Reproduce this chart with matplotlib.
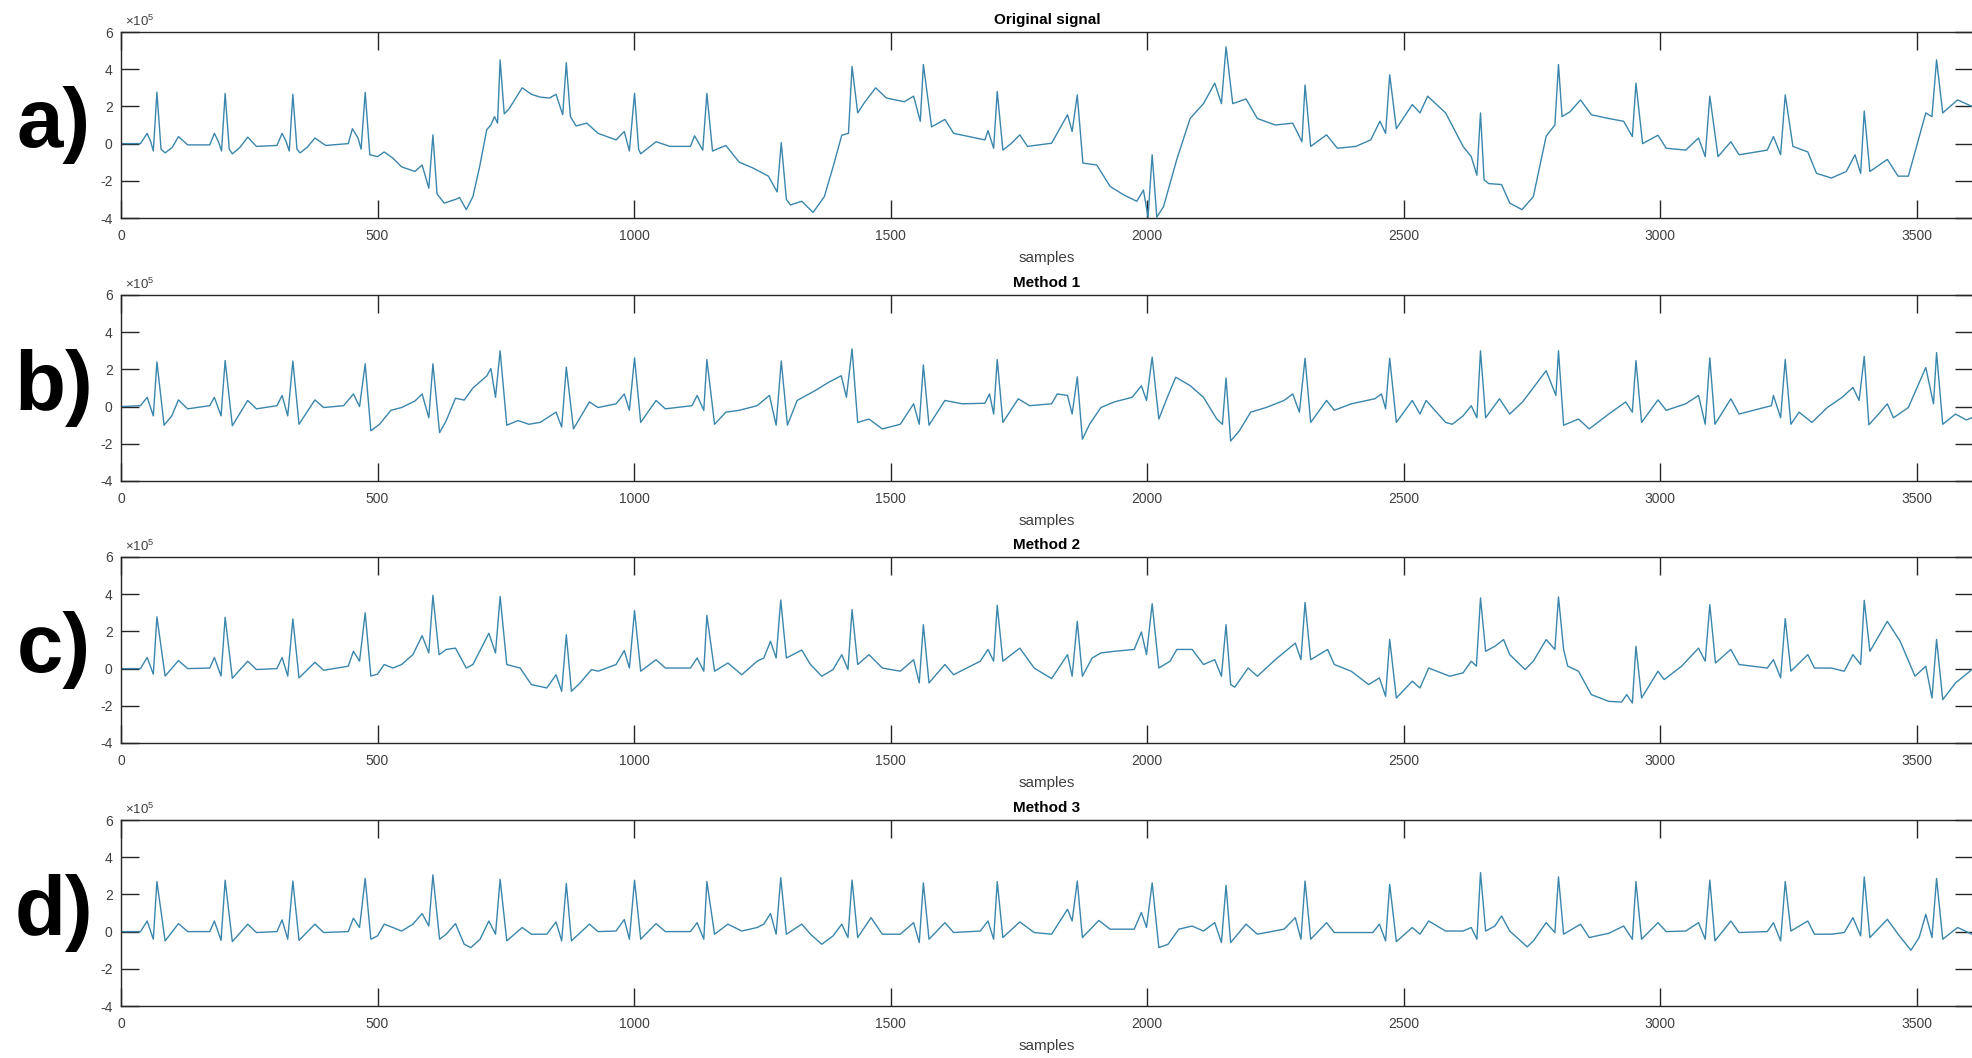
import numpy as np
import matplotlib
matplotlib.use("Agg")
import matplotlib.pyplot as plt

# ECG traces: sample index and value (x 1e5)
a_x = [0, 38, 51, 58, 63, 70, 78, 86, 100, 112, 130, 173, 182, 190, 196, 203, 211, 217, 232, 247,
       264, 304, 314, 322, 328, 335, 343, 349, 363, 378, 399, 443, 451, 462, 468, 476, 485, 500, 513, 530,
       547, 573, 587, 600, 608, 616, 630, 652, 660, 673, 686, 699, 713, 721, 728, 734, 739, 747, 756, 782,
       800, 817, 835, 848, 861, 868, 876, 887, 908, 930, 965, 981, 991, 1001, 1009, 1013, 1043, 1070, 1110, 1118,
       1134, 1142, 1153, 1179, 1205, 1231, 1262, 1279, 1287, 1297, 1305, 1327, 1349, 1371, 1388, 1405, 1418, 1425, 1436, 1449,
       1471, 1492, 1527, 1545, 1558, 1564, 1580, 1606, 1623, 1658, 1684, 1690, 1701, 1708, 1719, 1735, 1752, 1767, 1814, 1845,
       1854, 1864, 1875, 1902, 1928, 1954, 1980, 1993, 2002, 2010, 2019, 2032, 2058, 2084, 2110, 2132, 2145, 2154, 2167, 2193,
       2215, 2250, 2284, 2302, 2308, 2319, 2350, 2371, 2407, 2436, 2454, 2465, 2473, 2486, 2517, 2532, 2547, 2582, 2616, 2632,
       2643, 2650, 2657, 2666, 2691, 2707, 2731, 2753, 2778, 2795, 2802, 2809, 2824, 2845, 2866, 2900, 2929, 2946, 2953, 2966,
       2996, 3012, 3050, 3075, 3088, 3097, 3113, 3138, 3154, 3209, 3221, 3235, 3244, 3259, 3288, 3305, 3334, 3363, 3380, 3391,
       3398, 3409, 3443, 3464, 3484, 3518, 3530, 3539, 3551, 3580, 3608]
a_y = [0.0, 0.0, 0.55, 0.1, -0.4, 2.76, -0.3, -0.5, -0.2, 0.38, -0.07, -0.07, 0.55, 0.1, -0.4, 2.7, -0.3, -0.55, -0.2, 0.35,
       -0.15, -0.1, 0.55, 0.1, -0.4, 2.65, -0.3, -0.5, -0.2, 0.3, -0.1, 0.0, 0.8, 0.3, -0.3, 2.76, -0.6, -0.7, -0.45, -0.78,
       -1.25, -1.5, -1.15, -2.4, 0.47, -2.7, -3.2, -3.0, -2.9, -3.55, -2.85, -1.25, 0.75, 1.0, 1.45, 1.1, 4.5, 1.6, 1.85, 3.0,
       2.65, 2.5, 2.45, 2.65, 1.55, 4.35, 1.45, 0.95, 1.1, 0.55, 0.2, 0.65, -0.4, 2.7, -0.3, -0.55, 0.1, -0.15, -0.15, 0.42,
       -0.35, 2.7, -0.4, -0.1, -1.0, -1.3, -1.75, -2.6, 0.05, -3.0, -3.3, -3.1, -3.7, -2.85, -1.25, 0.45, 0.55, 4.15, 1.65, 2.2,
       3.0, 2.45, 2.25, 2.55, 1.2, 4.25, 0.9, 1.3, 0.55, 0.35, 0.2, 0.7, -0.25, 2.8, -0.35, 0.0, 0.47, -0.15, 0.02, 1.55,
       0.65, 2.62, -1.05, -1.15, -2.3, -2.75, -3.1, -2.5, -3.95, -0.6, -3.95, -3.4, -0.85, 1.35, 2.15, 3.25, 2.15, 5.2, 2.15, 2.4,
       1.35, 1.0, 1.1, 0.1, 3.15, -0.15, 0.47, -0.25, -0.15, 0.2, 1.2, 0.55, 3.7, 0.8, 2.1, 1.65, 2.55, 1.65, -0.15, -0.7,
       -1.7, 1.65, -1.95, -2.15, -2.2, -3.2, -3.55, -2.85, 0.4, 1.0, 4.25, 1.45, 1.7, 2.35, 1.55, 1.35, 1.2, 0.38, 3.25, 0.0,
       0.45, -0.25, -0.35, 0.3, -0.7, 2.55, -0.7, 0.1, -0.6, -0.35, 0.38, -0.6, 2.62, -0.15, -0.45, -1.6, -1.85, -1.5, -0.6, -1.6,
       1.75, -1.5, -0.85, -1.75, -1.75, 1.65, 1.45, 4.5, 1.65, 2.35, 2.0]

b_x = [0, 38, 51, 63, 70, 84, 99, 112, 130, 173, 182, 195, 203, 217, 247, 264, 304, 314, 325, 335,
       347, 378, 395, 434, 453, 465, 476, 487, 504, 526, 547, 573, 587, 600, 608, 621, 634, 652, 669, 686,
       713, 721, 730, 739, 752, 774, 795, 817, 848, 859, 868, 882, 913, 930, 965, 981, 991, 1001, 1013, 1043,
       1061, 1113, 1123, 1136, 1142, 1157, 1179, 1205, 1240, 1264, 1277, 1287, 1299, 1318, 1353, 1379, 1404, 1414, 1425, 1436,
       1458, 1484, 1519, 1545, 1556, 1564, 1575, 1606, 1640, 1684, 1693, 1701, 1708, 1719, 1749, 1771, 1814, 1825, 1845, 1854,
       1864, 1874, 1888, 1910, 1936, 1971, 1989, 1999, 2010, 2023, 2041, 2056, 2084, 2110, 2136, 2147, 2154, 2163, 2180, 2202,
       2232, 2267, 2284, 2297, 2308, 2319, 2350, 2365, 2398, 2444, 2457, 2465, 2473, 2486, 2517, 2532, 2544, 2582, 2595, 2616,
       2632, 2643, 2650, 2660, 2687, 2707, 2732, 2758, 2778, 2797, 2802, 2812, 2841, 2862, 2900, 2933, 2946, 2953, 2964, 2996,
       3012, 3050, 3075, 3088, 3097, 3107, 3138, 3154, 3217, 3221, 3235, 3244, 3255, 3271, 3296, 3326, 3355, 3376, 3388, 3398,
       3407, 3426, 3443, 3455, 3484, 3518, 3533, 3539, 3551, 3576, 3597, 3608]
b_y = [0.0, 0.05, 0.5, -0.5, 2.4, -1.0, -0.5, 0.36, -0.12, 0.05, 0.5, -0.5, 2.48, -1.03, 0.33, -0.12, 0.05, 0.6, -0.5, 2.45,
       -0.95, 0.36, -0.05, 0.05, 0.68, 0.0, 2.3, -1.3, -0.95, -0.2, -0.05, 0.3, 0.68, -0.6, 2.3, -1.4, -0.75, 0.45, 0.35, 1.0,
       1.65, 2.05, 0.5, 3.0, -1.0, -0.75, -0.95, -0.85, -0.3, -1.1, 2.12, -1.2, 0.25, -0.05, 0.15, 0.68, -0.2, 2.62, -0.85, 0.33,
       -0.12, 0.05, 0.6, -0.2, 2.53, -0.95, -0.3, -0.2, 0.05, 0.6, -1.0, 2.45, -1.0, 0.33, 0.86, 1.3, 1.66, 0.5, 3.1, -0.85,
       -0.67, -1.2, -0.95, 0.15, -0.95, 2.24, -1.0, 0.33, 0.15, 0.18, 0.68, -0.4, 2.53, -0.85, 0.42, 0.05, 0.15, 0.68, 0.6, -0.4,
       1.6, -1.75, -0.95, -0.05, 0.25, 0.5, 1.12, 0.33, 2.66, -0.67, 0.6, 1.58, 1.13, 0.5, -0.67, -0.95, 1.54, -1.85, -1.3, -0.3,
       -0.05, 0.33, 0.68, -0.3, 2.6, -0.85, 0.33, -0.2, 0.15, 0.42, 0.68, -0.12, 2.6, -0.85, 0.33, -0.4, 0.33, -0.85, -0.95, -0.5,
       0.05, -0.6, 3.0, -0.6, 0.42, -0.4, 0.25, 1.2, 1.93, 0.6, 3.0, -1.0, -0.67, -1.2, -0.4, 0.25, -0.3, 2.47, -0.85, 0.36,
       -0.2, 0.15, 0.6, -0.95, 2.62, -0.95, 0.42, -0.4, 0.05, 0.6, -0.6, 2.53, -0.95, -0.3, -0.85, -0.05, 0.5, 1.03, 0.33, 2.7,
       -0.98, -0.4, 0.15, -0.6, -0.05, 2.1, 0.15, 2.9, -0.95, -0.4, -0.72, -0.6]

c_x = [0, 38, 51, 63, 70, 86, 112, 130, 173, 182, 195, 203, 217, 247, 264, 304, 314, 325, 335, 347,
       378, 395, 443, 453, 465, 476, 487, 500, 513, 530, 547, 569, 587, 600, 608, 620, 634, 652, 673, 686,
       717, 730, 739, 752, 778, 800, 830, 848, 859, 868, 878, 895, 917, 930, 965, 981, 991, 1001, 1013, 1043,
       1061, 1110, 1123, 1136, 1142, 1157, 1183, 1210, 1240, 1253, 1266, 1277, 1286, 1297, 1327, 1344, 1366, 1388, 1405, 1417,
       1425, 1436, 1458, 1484, 1519, 1545, 1556, 1564, 1575, 1606, 1623, 1675, 1690, 1701, 1708, 1719, 1752, 1780, 1814, 1845,
       1854, 1864, 1874, 1893, 1910, 1936, 1975, 1989, 1999, 2010, 2023, 2045, 2058, 2088, 2110, 2132, 2145, 2154, 2163, 2171,
       2197, 2215, 2250, 2289, 2300, 2308, 2319, 2352, 2365, 2398, 2432, 2453, 2465, 2473, 2486, 2517, 2532, 2549, 2590, 2616,
       2632, 2642, 2650, 2660, 2678, 2695, 2707, 2737, 2753, 2778, 2795, 2802, 2812, 2820, 2841, 2866, 2900, 2925, 2935, 2946,
       2953, 2964, 2996, 3008, 3042, 3075, 3088, 3097, 3108, 3138, 3154, 3209, 3221, 3235, 3244, 3255, 3288, 3301, 3334, 3359,
       3376, 3391, 3398, 3409, 3443, 3468, 3497, 3518, 3530, 3539, 3551, 3576, 3608]
c_y = [0.0, 0.0, 0.6, -0.3, 2.78, -0.4, 0.43, 0.0, 0.03, 0.6, -0.4, 2.76, -0.52, 0.4, -0.05, 0.0, 0.6, -0.4, 2.67, -0.5,
       0.34, -0.09, 0.13, 0.93, 0.4, 3.0, -0.4, -0.3, 0.22, 0.03, 0.22, 0.75, 1.77, 0.84, 3.94, 0.75, 1.03, 1.1, 0.03, 0.22,
       1.9, 0.84, 3.88, 0.22, 0.03, -0.86, -1.04, -0.33, -1.22, 1.82, -1.22, -0.77, -0.05, -0.14, 0.22, 0.97, 0.03, 3.12, -0.14, 0.48,
       0.03, 0.03, 0.57, -0.14, 2.86, -0.14, 0.3, -0.33, 0.4, 0.57, 1.47, 0.57, 3.69, 0.57, 1.0, 0.22, -0.41, -0.05, 0.75, -0.05,
       3.17, 0.22, 0.75, 0.03, -0.14, 0.48, -0.77, 2.36, -0.77, 0.22, -0.33, 0.4, 1.03, 0.4, 3.4, 0.4, 1.1, 0.03, -0.54, 0.75,
       -0.41, 2.54, -0.41, 0.57, 0.84, 0.93, 1.03, 1.97, 0.75, 3.49, 0.03, 0.4, 1.03, 1.03, 0.22, 0.48, -0.41, 2.36, -0.86, -1.0,
       0.03, -0.41, 0.48, 1.37, 0.48, 3.56, 0.48, 1.03, 0.22, -0.14, -0.86, -0.5, -1.49, 1.57, -1.58, -0.68, -1.04, 0.03, -0.41, -0.23,
       0.4, 0.13, 3.8, 0.93, 1.2, 1.56, 0.75, -0.05, 0.4, 1.56, 1.03, 3.85, 1.03, 0.13, -0.14, -1.4, -1.76, -1.8, -1.4, -1.85,
       1.2, -1.58, -0.14, -0.59, 0.13, 1.1, 0.4, 3.44, 0.3, 1.03, 0.22, 0.03, 0.48, -0.5, 2.69, -0.14, 0.75, 0.03, 0.03, -0.14,
       0.75, 0.22, 3.67, 0.93, 2.54, 1.47, -0.41, 0.13, -1.58, 1.57, -1.67, -0.77, -0.05]

d_x = [0, 38, 51, 63, 70, 86, 112, 130, 173, 182, 195, 203, 217, 247, 264, 304, 314, 325, 335, 347,
       378, 395, 443, 453, 465, 476, 487, 500, 513, 530, 547, 569, 587, 600, 608, 621, 634, 652, 669, 682,
       700, 717, 730, 739, 752, 782, 800, 830, 848, 859, 868, 878, 913, 930, 965, 981, 991, 1001, 1013, 1043,
       1061, 1110, 1123, 1136, 1142, 1157, 1183, 1210, 1240, 1253, 1266, 1277, 1286, 1297, 1327, 1344, 1366, 1388, 1405, 1417,
       1425, 1436, 1462, 1484, 1519, 1545, 1556, 1564, 1575, 1606, 1623, 1675, 1690, 1701, 1708, 1719, 1752, 1780, 1814, 1845,
       1854, 1864, 1874, 1906, 1928, 1975, 1989, 1999, 2010, 2023, 2041, 2062, 2088, 2110, 2132, 2145, 2154, 2163, 2193, 2215,
       2267, 2289, 2300, 2308, 2319, 2350, 2365, 2440, 2453, 2465, 2473, 2486, 2517, 2532, 2549, 2582, 2616, 2632, 2643, 2650,
       2660, 2678, 2691, 2707, 2741, 2753, 2778, 2795, 2802, 2812, 2845, 2862, 2900, 2929, 2946, 2953, 2964, 2996, 3012, 3050,
       3075, 3088, 3097, 3107, 3138, 3154, 3209, 3221, 3235, 3244, 3255, 3288, 3301, 3334, 3359, 3376, 3391, 3398, 3409, 3443,
       3464, 3489, 3505, 3518, 3530, 3539, 3551, 3580, 3608]
d_y = [0.0, 0.0, 0.57, -0.41, 2.69, -0.5, 0.43, 0.0, 0.0, 0.57, -0.47, 2.76, -0.54, 0.4, -0.05, 0.0, 0.63, -0.41, 2.72, -0.47,
       0.4, -0.05, 0.0, 0.72, 0.22, 2.86, -0.41, -0.23, 0.4, 0.22, 0.03, 0.4, 0.97, 0.3, 3.05, -0.41, -0.14, 0.43, -0.68, -0.86,
       -0.41, 0.57, -0.14, 2.81, -0.5, 0.22, -0.14, -0.14, 0.52, -0.5, 2.59, -0.5, 0.4, 0.0, 0.03, 0.65, -0.41, 2.76, -0.41, 0.43,
       0.0, 0.0, 0.48, -0.41, 2.69, -0.14, 0.4, 0.03, 0.22, 0.4, 0.97, -0.14, 2.9, -0.14, 0.4, -0.14, -0.68, -0.23, 0.4, -0.32,
       2.77, -0.32, 0.75, -0.14, -0.14, 0.48, -0.59, 2.62, -0.41, 0.48, -0.05, 0.03, 0.57, -0.41, 2.69, -0.32, 0.52, -0.05, -0.14, 1.2,
       0.57, 2.72, -0.32, 0.6, 0.13, 0.13, 1.03, 0.22, 2.62, -0.86, -0.68, 0.13, 0.3, 0.03, 0.48, -0.59, 2.49, -0.59, 0.4, -0.14,
       0.13, 0.75, -0.41, 2.72, -0.41, 0.48, -0.05, -0.05, 0.4, -0.5, 2.54, -0.54, 0.22, -0.14, 0.57, 0.03, 0.03, 0.22, -0.41, 3.17,
       0.03, 0.3, 0.84, 0.03, -0.82, -0.5, 0.48, -0.05, 2.94, -0.14, 0.4, -0.32, -0.09, 0.3, -0.41, 2.69, -0.41, 0.48, 0.0, 0.03,
       0.48, -0.41, 2.77, -0.5, 0.57, -0.05, 0.0, 0.48, -0.5, 2.69, 0.03, 0.57, -0.14, -0.14, -0.05, 0.75, -0.23, 2.94, -0.32, 0.66,
       -0.14, -1.0, -0.32, 0.93, -0.32, 2.86, -0.41, 0.22, -0.14]

letters = ["a)", "b)", "c)", "d)"]
titles = ["Original signal", "Method 1", "Method 2", "Method 3"]
x_ticks = [0, 500, 1000, 1500, 2000, 2500, 3000, 3500]
y_ticks = [-4, -2, 0, 2, 4, 6]

plt.rcParams["font.family"] = ["Liberation Sans", "DejaVu Sans"]
plt.rcParams["axes.unicode_minus"] = False
plt.rcParams["mathtext.default"] = "regular"

W, H = 1972, 1058
fig = plt.figure(figsize=(W / 100, H / 100), dpi=100)

tops = [32, 295, 557, 820]  # pixel rows of the top spines
ax_h = 186
line_col = "#3a86ac"
txt_col = "#404040"

for i, (xs, ys) in enumerate([(a_x, a_y), (b_x, b_y), (c_x, c_y), (d_x, d_y)]):
    top = tops[i]
    ax = fig.add_axes([121 / W, 1 - (top + ax_h) / H, 1852 / W, ax_h / H])
    ax.plot(xs, ys, color=line_col, lw=1.0)
    ax.set_xlim(0, 3610)
    ax.set_ylim(-4, 6)
    ax.set_xticks(x_ticks)
    ax.set_yticks(y_ticks)
    ax.tick_params(direction="in", length=13, width=1.0, top=True, right=True,
                   labelsize=10, labelcolor=txt_col, color="#262626")
    ax.tick_params(axis="x", pad=8)
    ax.tick_params(axis="y", pad=6)
    for s in ax.spines.values():
        s.set_color("#262626")
        s.set_linewidth(1.0)
    ax.set_title(titles[i], fontsize=11, fontweight="bold", pad=6)
    ax.set_xlabel("samples", fontsize=11, color=txt_col, labelpad=6)
    ax.text(0.002, 1.015, r"$\times10^{5}$", transform=ax.transAxes,
            fontsize=9.5, color=txt_col, va="bottom", ha="left")
    fig.text(54 / W, 1 - (top + ax_h / 2) / H, letters[i], fontsize=60,
             fontweight="bold", ha="center", va="center")

fig.savefig("out.png", dpi=100)
